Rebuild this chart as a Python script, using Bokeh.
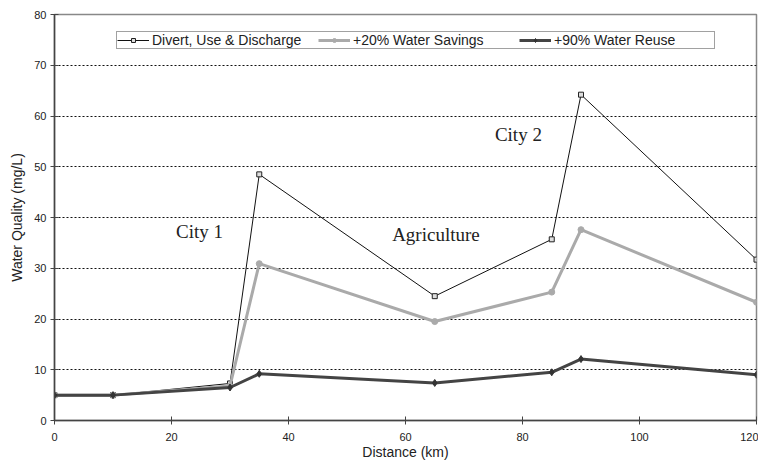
from bokeh.plotting import figure
from bokeh.models import ColumnDataSource, Legend, LegendItem, FixedTicker, Range1d
from bokeh.core.properties import value
from bokeh.embed import file_html
from bokeh.resources import INLINE

distance = [0, 10, 30, 35, 65, 85, 90, 120]
divert = [5.0, 5.0, 7.3, 48.5, 24.5, 35.7, 64.2, 31.7]
savings20 = [5.0, 5.0, 6.8, 30.9, 19.5, 25.3, 37.6, 23.3]
reuse90 = [5.0, 5.0, 6.5, 9.2, 7.4, 9.5, 12.1, 9.0]

label_text = ["City 1", "Agriculture", "City 2"]
label_x = [24.8, 65.2, 79.3]
label_y = [37.3, 36.7, 56.3]

x_ticks = [0, 20, 40, 60, 80, 100, 120]
y_ticks = [0, 10, 20, 30, 40, 50, 60, 70, 80]

p = figure(frame_width=702, frame_height=406, output_backend="svg", toolbar_location=None,
           x_range=Range1d(0, 120), y_range=Range1d(0, 80),
           min_border_left=54, min_border_right=2, min_border_top=14, min_border_bottom=40)
p.background_fill_color = "white"
p.border_fill_color = "white"
p.outline_line_color = "#888888"
p.outline_line_width = 1.5

p.xgrid.grid_line_color = None
p.ygrid.grid_line_color = "#111111"
p.ygrid.grid_line_dash = "2 2"
p.ygrid.grid_line_width = 1

for ax in (p.xaxis[0], p.yaxis[0]):
    ax.axis_line_color = "#444444"
    ax.axis_line_width = 1.5
    ax.major_tick_line_color = "#444444"
    ax.major_tick_in = 4
    ax.major_tick_out = 4
    ax.minor_tick_line_color = None
    ax.major_label_text_font = "Liberation Sans"
    ax.major_label_text_font_size = "11px"
    ax.major_label_text_color = "#222222"
    ax.axis_label_text_font = "Liberation Sans"
    ax.axis_label_text_font_size = "14px"
    ax.axis_label_text_font_style = "normal"
    ax.axis_label_text_color = "#222222"

p.xaxis.ticker = FixedTicker(ticks=x_ticks)
p.yaxis.ticker = FixedTicker(ticks=y_ticks)
p.xaxis.axis_label = "Distance (km)"
p.yaxis.axis_label = "Water Quality (mg/L)"
p.xaxis.major_label_standoff = 8
p.xaxis.axis_label_standoff = 0
p.yaxis.major_label_standoff = 4
p.yaxis.axis_label_standoff = 6

src = ColumnDataSource(dict(x=distance, d=divert, s=savings20, r=reuse90))

l1 = p.line("x", "d", source=src, line_color="#111111", line_width=1)
m1 = p.scatter("x", "d", source=src, marker="square", size=5, fill_color="#dddddd",
               line_color="#222222", line_width=1)
l2 = p.line("x", "s", source=src, line_color="#aaaaaa", line_width=3)
m2 = p.scatter("x", "s", source=src, marker="circle", size=6, fill_color="#aaaaaa",
               line_color="#aaaaaa")
l3 = p.line("x", "r", source=src, line_color="#444444", line_width=3)
m3 = p.scatter("x", "r", source=src, marker="diamond", size=7, fill_color="#333333",
               line_color="#333333")

lsrc = ColumnDataSource(dict(x=label_x, y=label_y, t=label_text))
p.text("x", "y", text="t", source=lsrc, text_font=value("Liberation Serif"),
       text_font_size="19px", text_color="#222222", text_align="center",
       text_baseline="middle")

legend = Legend(items=[
    LegendItem(label="Divert, Use & Discharge", renderers=[l1, m1]),
    LegendItem(label="+20% Water Savings", renderers=[l2, m2]),
    LegendItem(label="+90% Water Reuse", renderers=[l3, m3]),
], orientation="horizontal", location=(62, 371))
legend.label_text_font = "Liberation Sans"
legend.label_text_font_size = "14px"
legend.label_text_color = "#222222"
legend.glyph_width = 32
legend.glyph_height = 10
legend.label_standoff = 3
legend.label_width = 160
legend.spacing = 6
legend.padding = 0
legend.margin = 0
legend.label_height = 12
legend.border_line_color = "#444444"
legend.border_line_width = 1
legend.background_fill_alpha = 1
p.add_layout(legend, "center")

open("out.html", "w").write(file_html(p, INLINE))
